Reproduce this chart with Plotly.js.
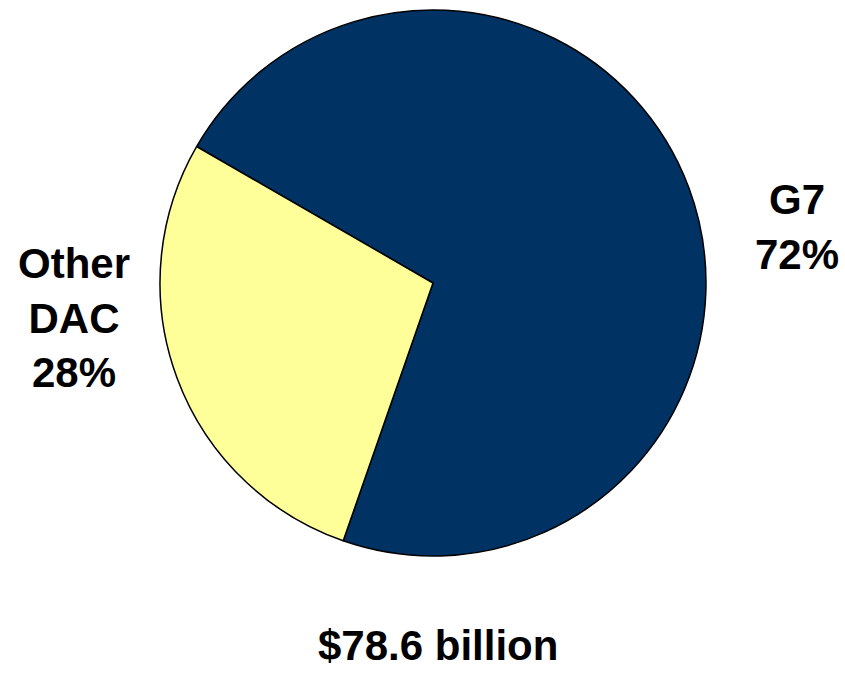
<!DOCTYPE html>
<html>
<head>
<meta charset="utf-8">
<script src="https://cdn.plot.ly/plotly-3.0.1.min.js"></script>
<style>html,body{margin:0;padding:0;background:#fff}#chart{width:845px;height:673px}</style>
</head>
<body>
<div id="chart"></div>
<script>
const categories = ["G7", "Other DAC"];
const shares = [72, 28];
const sliceColors = ["#003263", "#FFFF99"];
const labelTexts = ["G7<br>72%", "Other<br>DAC<br>28%"];
const totalLabel = "$78.6 billion";

const W = 845, H = 673;
const px = (x) => x / W;
const py = (y) => 1 - y / H;
const font = {family: "Liberation Sans, Arial, sans-serif", size: 42, color: "#000"};

const data = [{
  type: "pie",
  labels: categories,
  values: shares,
  sort: false,
  direction: "clockwise",
  rotation: -60,
  textinfo: "none",
  hoverinfo: "label+percent",
  marker: {colors: sliceColors, line: {color: "#000", width: 1.5}},
  domain: {x: [px(160), px(706)], y: [py(556), py(10)]},
  showlegend: false
}];

const layout = {
  width: W, height: H,
  margin: {l: 0, r: 0, t: 0, b: 0},
  paper_bgcolor: "#fff",
  showlegend: false,
  annotations: [
    {text: "<b>" + labelTexts[0] + "</b>", x: px(797), y: py(227), xref: "paper", yref: "paper", showarrow: false, font: font, xanchor: "center", yanchor: "middle", align: "center"},
    {text: "<b>" + labelTexts[1] + "</b>", x: px(74), y: py(318), xref: "paper", yref: "paper", showarrow: false, font: font, xanchor: "center", yanchor: "middle", align: "center"},
    {text: "<b>" + totalLabel + "</b>", x: px(438), y: py(645), xref: "paper", yref: "paper", showarrow: false, font: font, xanchor: "center", yanchor: "middle", align: "center"}
  ]
};

Plotly.newPlot("chart", data, layout, {displayModeBar: false, staticPlot: true});
</script>
</body>
</html>
